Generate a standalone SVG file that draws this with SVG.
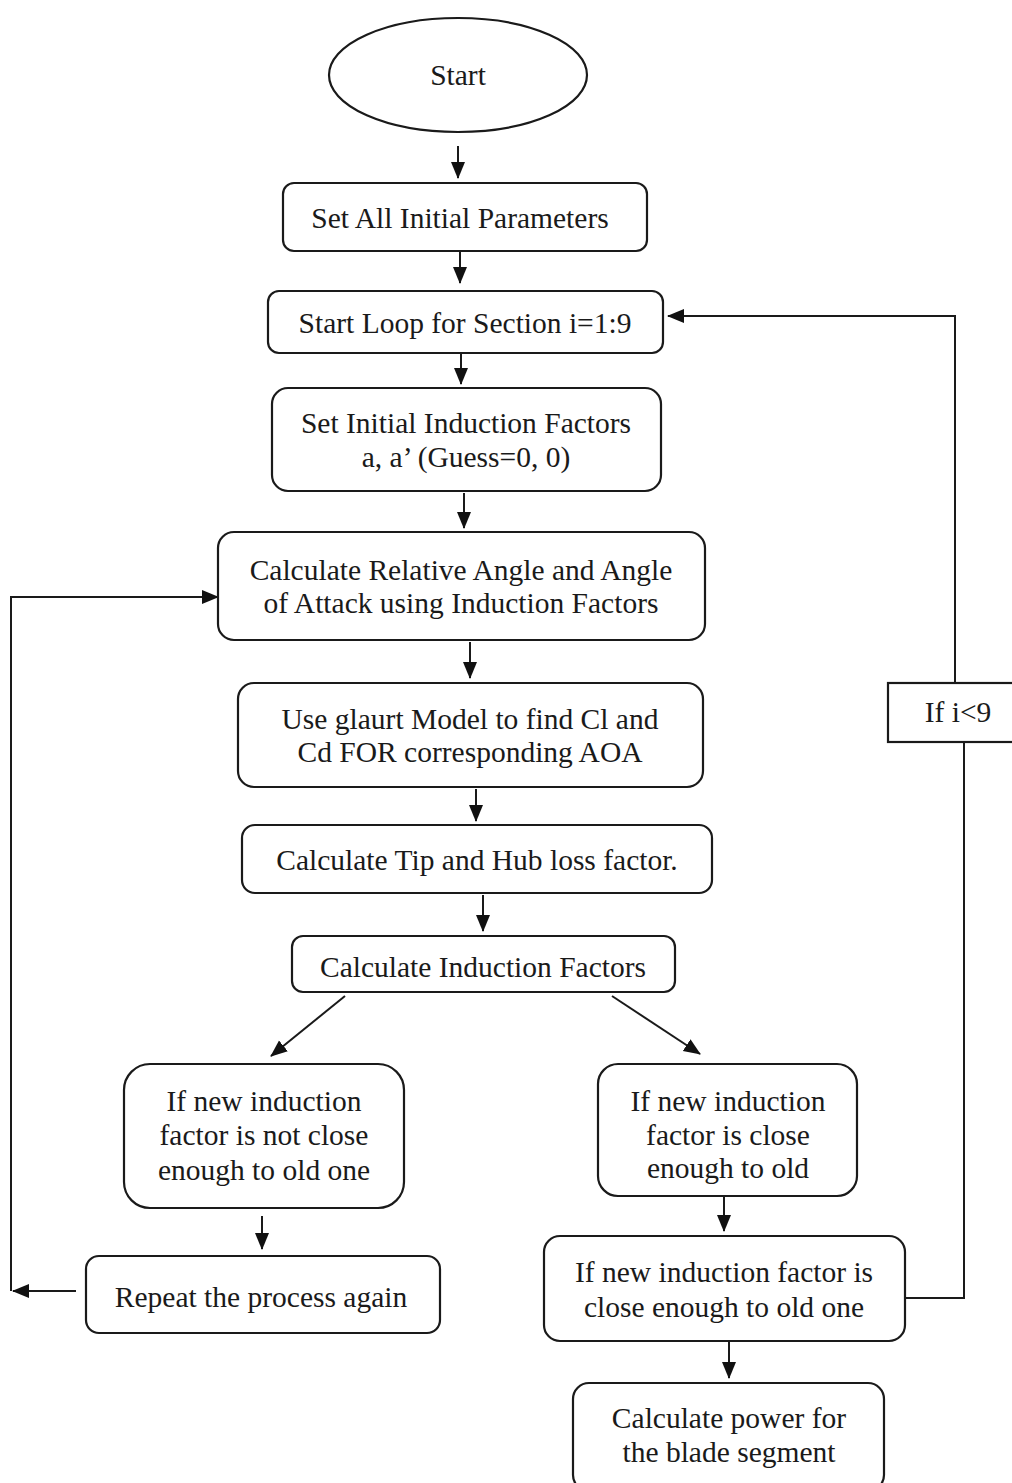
<svg xmlns="http://www.w3.org/2000/svg" width="1012" height="1483" viewBox="0 0 1012 1483">
<style>
.n{fill:#fff;stroke:#1a1a1a;stroke-width:2.2}
.t{font-family:"Liberation Serif","Times New Roman",serif;font-size:29.5px;fill:#1a1a1a;text-anchor:middle}
.c{fill:none;stroke:#1a1a1a;stroke-width:2}
</style>
<defs>
<marker id="ah" markerUnits="userSpaceOnUse" markerWidth="17" markerHeight="17" viewBox="0 0 17 17" refX="16" refY="8.5" orient="auto">
<path d="M0,1.5 L17,8.5 L0,15.5 Z" fill="#111"/>
</marker>
</defs>
<rect width="1012" height="1483" fill="#fff"/>
<g id="connectors">
<line class="c" x1="458" y1="146" x2="458" y2="178" marker-end="url(#ah)"/>
<line class="c" x1="460" y1="251" x2="460" y2="283" marker-end="url(#ah)"/>
<line class="c" x1="461" y1="354" x2="461" y2="384" marker-end="url(#ah)"/>
<line class="c" x1="464" y1="493" x2="464" y2="528" marker-end="url(#ah)"/>
<line class="c" x1="470" y1="642" x2="470" y2="678" marker-end="url(#ah)"/>
<line class="c" x1="476" y1="789" x2="476" y2="821" marker-end="url(#ah)"/>
<line class="c" x1="483" y1="895" x2="483" y2="931" marker-end="url(#ah)"/>
<line class="c" x1="345" y1="996" x2="271" y2="1056" marker-end="url(#ah)"/>
<line class="c" x1="612" y1="996" x2="700" y2="1054" marker-end="url(#ah)"/>
<line class="c" x1="262" y1="1216" x2="262" y2="1249" marker-end="url(#ah)"/>
<line class="c" x1="724" y1="1197" x2="724" y2="1231" marker-end="url(#ah)"/>
<line class="c" x1="729" y1="1342" x2="729" y2="1378" marker-end="url(#ah)"/>
<line class="c" x1="76" y1="1291" x2="13" y2="1291" marker-end="url(#ah)"/>
<polyline class="c" points="11,1291 11,597 218,597" marker-end="url(#ah)"/>
<polyline class="c" points="905,1298 964,1298 964,742"/>
<polyline class="c" points="955,683 955,316 668,316" marker-end="url(#ah)"/>
</g>
<g id="start">
<ellipse class="n" cx="458" cy="75" rx="129" ry="57"/>
<text class="t" x="458" y="85">Start</text>
</g>
<g id="set-params">
<rect class="n" x="283" y="183" width="364" height="68" rx="11"/>
<text class="t" x="460" y="228">Set All Initial Parameters</text>
</g>
<g id="start-loop">
<rect class="n" x="268" y="291" width="395" height="62" rx="11"/>
<text class="t" x="465" y="333">Start Loop for Section i=1:9</text>
</g>
<g id="init-induction">
<rect class="n" x="272" y="388" width="389" height="103" rx="16"/>
<text class="t" x="466" y="433">Set Initial Induction Factors</text>
<text class="t" x="466" y="467">a, a’ (Guess=0, 0)</text>
</g>
<g id="calc-angle">
<rect class="n" x="218" y="532" width="487" height="108" rx="16"/>
<text class="t" x="461" y="580">Calculate Relative Angle and Angle</text>
<text class="t" x="461" y="613">of Attack using Induction Factors</text>
</g>
<g id="glaurt">
<rect class="n" x="238" y="683" width="465" height="104" rx="16"/>
<text class="t" x="470" y="729">Use glaurt Model to find Cl and</text>
<text class="t" x="470" y="762">Cd FOR corresponding AOA</text>
</g>
<g id="tip-hub">
<rect class="n" x="242" y="825" width="470" height="68" rx="13"/>
<text class="t" x="477" y="870">Calculate Tip and Hub loss factor.</text>
</g>
<g id="calc-induction">
<rect class="n" x="292" y="936" width="383" height="56" rx="11"/>
<text class="t" x="483" y="977">Calculate Induction Factors</text>
</g>
<g id="not-close">
<rect class="n" x="124" y="1064" width="280" height="144" rx="26"/>
<text class="t" x="264" y="1111">If new induction</text>
<text class="t" x="264" y="1145">factor is not close</text>
<text class="t" x="264" y="1180">enough to old one</text>
</g>
<g id="repeat">
<rect class="n" x="86" y="1256" width="354" height="77" rx="13"/>
<text class="t" x="261" y="1307">Repeat the process again</text>
</g>
<g id="close">
<rect class="n" x="598" y="1064" width="259" height="132" rx="20"/>
<text class="t" x="728" y="1111">If new induction</text>
<text class="t" x="728" y="1145">factor is close</text>
<text class="t" x="728" y="1178">enough to old</text>
</g>
<g id="close-one">
<rect class="n" x="544" y="1236" width="361" height="105" rx="16"/>
<text class="t" x="724" y="1282">If new induction factor is</text>
<text class="t" x="724" y="1317">close enough to old one</text>
</g>
<g id="if-i9">
<rect class="n" x="888" y="683" width="130" height="59"/>
<text class="t" x="958" y="722">If i&lt;9</text>
</g>
<g id="power">
<rect class="n" x="573" y="1383" width="311" height="108" rx="16"/>
<text class="t" x="729" y="1428">Calculate power for</text>
<text class="t" x="729" y="1462">the blade segment</text>
</g>
</svg>
